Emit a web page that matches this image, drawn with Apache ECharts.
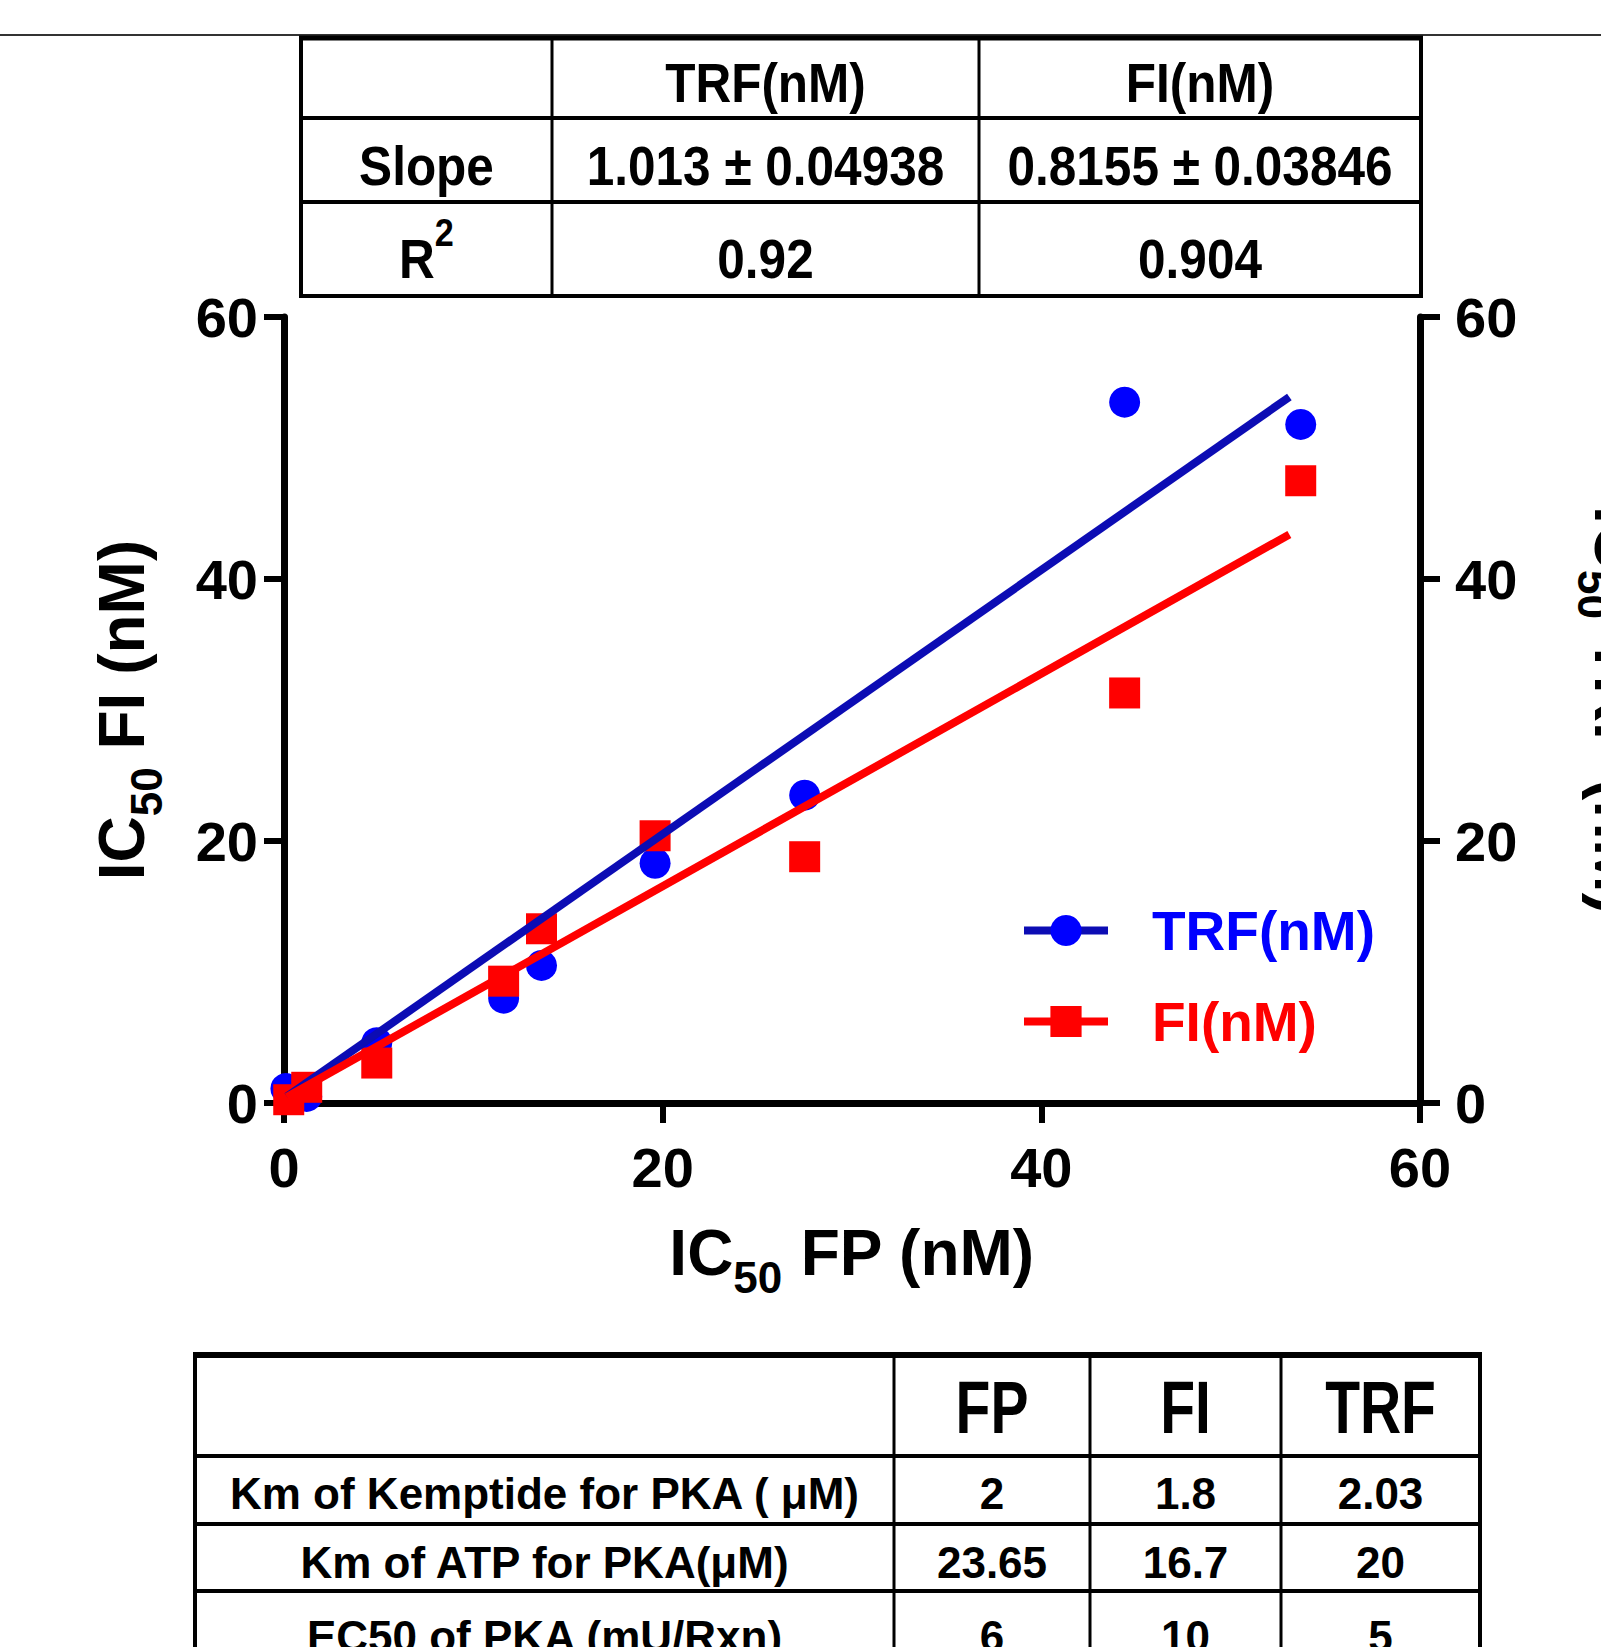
<!DOCTYPE html>
<html>
<head>
<meta charset="utf-8">
<script src="https://cdn.jsdelivr.net/npm/echarts@6/dist/echarts.min.js"></script>
<style>
html, body { margin: 0; padding: 0; background: #fff; }
#chart { width: 1601px; height: 1647px; }
</style>
</head>
<body>
<div id="chart"></div>
<script>
const fpForTRF = [0.1, 1.2, 4.9, 11.6, 13.6, 19.6, 27.5, 44.4, 53.7]
const trfIC50 = [1.1, 0.5, 4.6, 8.0, 10.5, 18.3, 23.5, 53.5, 51.8]
const fpForFI = [0.25, 1.2, 4.9, 11.6, 13.6, 19.6, 27.5, 44.4, 53.7]
const fiIC50 = [0.25, 1.2, 3.05, 9.3, 13.3, 20.4, 18.8, 31.3, 47.5]

// fitted lines, end points as drawn
const trfFitX = [0.15, 53.1]
const trfFitY = [0.5, 53.9]
const fiFitX = [0.15, 53.1]
const fiFitY = [0.45, 43.4]

// top table
const fitCols = ['', 'TRF(nM)', 'FI(nM)']
const slopeRow = ['Slope', '1.013 ± 0.04938', '0.8155 ± 0.03846']
const r2Row = ['R{sup|2}', '0.92', '0.904']

// bottom table
const methodCols = ['', 'FP', 'FI', 'TRF']
const kmKemptideRow = ['Km of Kemptide for PKA ( μM)', '2', '1.8', '2.03']
const kmAtpRow = ['Km of ATP for PKA(μM)', '23.65', '16.7', '20']
const ec50Row = ['EC50 of PKA (mU/Rxn)', '6', '10', '5']

const zip = (xs, ys) => xs.map((x, i) => [x, ys[i]])

const CHART_FONT = "'Liberation Sans', Arial, sans-serif"
const TABLE_FONT = "'Liberation Sans', Arial, sans-serif"

const hLine = (x1, x2, y, w) => ({
  type: 'line', z: 20,
  shape: { x1, y1: y, x2, y2: y },
  style: { stroke: '#000', lineWidth: w }
})
const vLine = (x, y1, y2, w) => ({
  type: 'line', z: 20,
  shape: { x1: x, y1, x2: x, y2 },
  style: { stroke: '#000', lineWidth: w }
})
const cell = (cx, cy, text, size, sx) => ({
  type: 'text', z: 21, x: cx, y: cy, scaleX: sx,
  style: {
    text, x: 0, y: 0, align: 'center', verticalAlign: 'middle',
    fontSize: size, fontWeight: 'bold', fontFamily: TABLE_FONT, fill: '#000',
    rich: { sup: { fontSize: 38, fontWeight: 'bold', fontFamily: TABLE_FONT, padding: [0, 0, 52, 0] } }
  }
})

const buildTable = (xs, ys, rows, rowCenters, sizes, scales, topW) => {
  const els = []
  ys.forEach((y, i) => els.push(hLine(xs[0] - 2, xs[xs.length - 1] + 2, y, i === 0 ? topW : 4)))
  xs.forEach((x, i) => els.push(vLine(x, ys[0], ys[ys.length - 1], i === 0 || i === xs.length - 1 ? 4 : 3)))
  rows.forEach((row, r) => {
    row.forEach((txt, c) => {
      if (!txt) return
      els.push(cell((xs[c] + xs[c + 1]) / 2, rowCenters[r], txt, sizes[r], scales[r]))
    })
  })
  return els
}

const topTable = buildTable(
  [301, 552, 979, 1421], [38, 118, 202, 296],
  [fitCols, slopeRow, r2Row], [83, 166, 259], [55, 55, 55], [0.9, 0.9, 0.9], 5
)
const bottomTable = buildTable(
  [195, 894, 1090, 1281, 1480], [1355, 1456, 1524, 1591, 1660],
  [methodCols, kmKemptideRow, kmAtpRow, ec50Row], [1407, 1493, 1562, 1636], [74, 44, 44, 44], [0.77, 1, 1, 1], 6
)

const axisCommon = {
  min: 0, max: 60, interval: 20,
  axisLine: { show: true, onZero: false, lineStyle: { color: '#000', width: 7 } },
  axisTick: { show: true, inside: false, length: 20, lineStyle: { color: '#000', width: 6 } },
  splitLine: { show: false },
  axisLabel: { fontSize: 56, fontWeight: 'bold', fontFamily: CHART_FONT, color: '#000' },
  nameLocation: 'middle',
  nameTextStyle: {
    fontSize: 64, fontWeight: 'bold', fontFamily: CHART_FONT, color: '#000',
    rich: { s: { fontSize: 44, fontWeight: 'bold', fontFamily: CHART_FONT, color: '#000', padding: [48, 0, 0, 0] } }
  }
}

const chart = echarts.init(document.getElementById('chart'), null, { renderer: 'svg' })

chart.setOption({
  animation: false,
  backgroundColor: '#fff',
  grid: { left: 284, top: 317, width: 1136, height: 786, outerBoundsMode: 'none', containLabel: false },
  legend: {
    orient: 'vertical',
    left: 1020, top: 903,
    padding: 0,
    itemWidth: 84, itemHeight: 39, itemGap: 36,
    selectedMode: false,
    lineStyle: { width: 8 },
    textStyle: { fontSize: 55, fontWeight: 'bold', fontFamily: CHART_FONT, padding: [0, 0, 0, 39] },
    data: [
      { name: 'TRF(nM)', textStyle: { color: '#0000ff' } },
      { name: 'FI(nM)', textStyle: { color: '#ff0000' } }
    ]
  },
  xAxis: {
    ...axisCommon,
    type: 'value',
    name: 'IC{s|50} FP (nM)',
    nameGap: 104,
    axisLabel: { ...axisCommon.axisLabel, margin: 36 }
  },
  yAxis: [
    {
      ...axisCommon,
      type: 'value',
      position: 'left',
      name: 'IC{s|50} FI (nM)',
      nameRotate: 90,
      nameGap: 116,
      axisLabel: { ...axisCommon.axisLabel, margin: 26 }
    },
    {
      ...axisCommon,
      type: 'value',
      position: 'right',
      name: 'IC{s|50} TRF (nM)',
      nameRotate: -90,
      nameGap: 151,
      axisLabel: { ...axisCommon.axisLabel, margin: 35 }
    }
  ],
  series: [
    {
      name: 'TRF(nM)', type: 'line', z: 4,
      data: zip(trfFitX, trfFitY),
      showSymbol: false, symbol: 'circle',
      lineStyle: { color: '#0c0cb4', width: 8 },
      itemStyle: { color: '#0000ff' }
    },
    {
      name: 'FI(nM)', type: 'line', z: 5,
      data: zip(fiFitX, fiFitY),
      showSymbol: false, symbol: 'rect',
      lineStyle: { color: '#ff0000', width: 8 },
      itemStyle: { color: '#ff0000' }
    },
    {
      name: 'TRF(nM)', type: 'scatter', z: 2,
      data: zip(fpForTRF, trfIC50),
      symbol: 'circle', symbolSize: 31,
      itemStyle: { color: '#0000ff', opacity: 1 }
    },
    {
      name: 'FI(nM)', type: 'scatter', z: 3,
      data: zip(fpForFI, fiIC50),
      symbol: 'rect', symbolSize: 31,
      itemStyle: { color: '#ff0000', opacity: 1 }
    }
  ],
  graphic: [
    { type: 'line', z: 1, shape: { x1: 0, y1: 35, x2: 1601, y2: 35 }, style: { stroke: '#333', lineWidth: 2 } },
    ...topTable,
    ...bottomTable
  ]
})
</script>
</body>
</html>
